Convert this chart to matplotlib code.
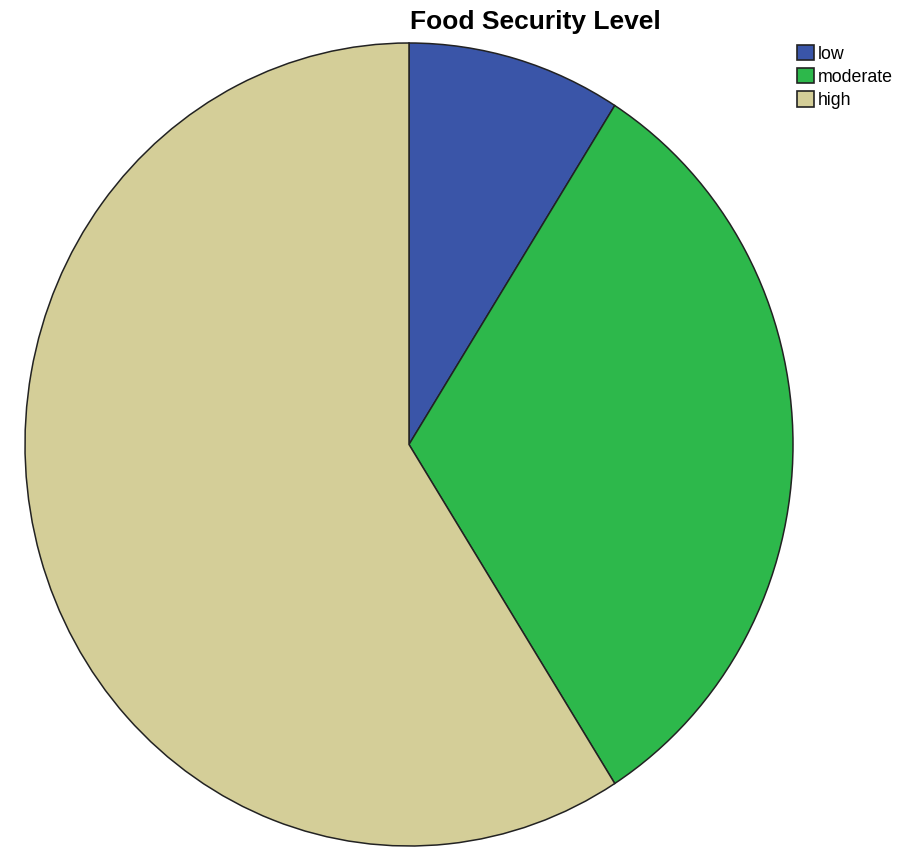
import matplotlib.pyplot as plt
from matplotlib.patches import Patch

# food security level shares
labels = ['low', 'moderate', 'high']
shares = [9.0, 32.0, 59.0]
colors = ['#3A55A8', '#2DB84B', '#D4CE98']

fig = plt.figure(figsize=(9.12, 8.49), dpi=100)
plt.rcParams['font.family'] = ['Liberation Sans', 'DejaVu Sans']

# the pie in the reference is slightly stretched vertically:
# centre ~ (409, 445) px, x radius ~384 px, y radius ~401 px
ax = fig.add_axes([25 / 912, 3 / 849, 768 / 912, 803 / 849])
ax.pie(shares, colors=colors, startangle=90, counterclock=False, radius=1,
       wedgeprops={'edgecolor': '#222222', 'linewidth': 1.1})
ax.set_xlim(-1, 1)
ax.set_ylim(-1, 1)
ax.set_aspect('auto')

fig.text(535 / 912, 1 - 22 / 849, 'Food Security Level', ha='center', va='center',
         fontsize=19, fontweight='bold')

handles = [Patch(facecolor=c, edgecolor='#222222', linewidth=1.2) for c in colors]
fig.legend(handles, labels, loc='upper left', bbox_to_anchor=(797 / 912, 1 - 45 / 849),
           frameon=False, fontsize=12.8, handlelength=0.95, handleheight=0.95,
           handletextpad=0.2, labelspacing=0.3, borderaxespad=0, borderpad=0)

fig.savefig('out.png', dpi=100)
